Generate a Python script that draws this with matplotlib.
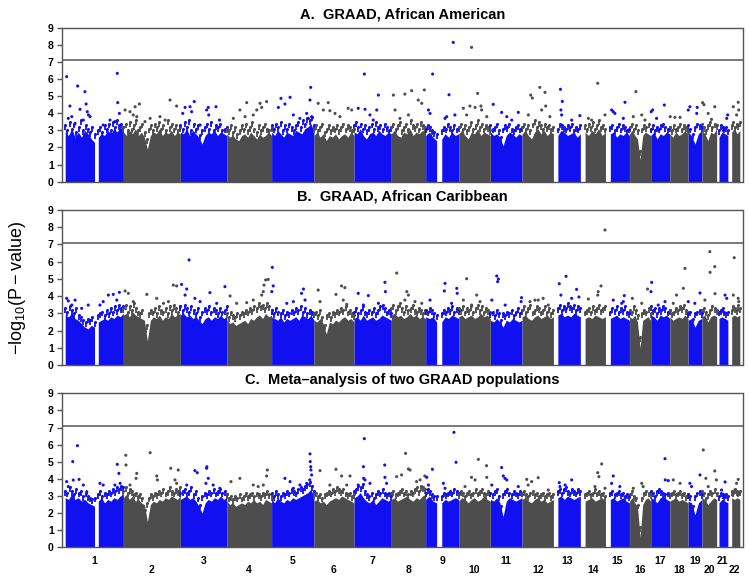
import numpy as np
import matplotlib.pyplot as plt

plt.rcParams['font.family'] = ['Liberation Sans', 'DejaVu Sans']

# chromosome sizes (Mb, hg19)
chroms = list(range(1, 23))
chrom_len = [249.3, 243.2, 198.0, 191.2, 180.9, 171.1, 159.1, 146.4, 141.2, 135.5, 135.0,
             133.9, 115.2, 107.3, 102.5, 90.4, 81.2, 78.1, 59.1, 63.0, 48.1, 51.3]

# stretches with genotyped SNPs (chromosome, first Mb, last Mb)
seg_chrom = [1, 1, 2, 3, 4, 5, 6, 7, 8, 9, 9, 10, 11, 12, 13, 14, 15, 16, 17, 18, 19, 20, 21, 22]
seg_start = [0.8, 142, 0.1, 0.1, 0.1, 0.1, 0.2, 0.1, 0.2, 0.2, 69, 0.1, 0.2, 0.2, 19, 20, 20.5,
             0.1, 0.1, 0.1, 0.3, 0.1, 10, 16]
seg_end = [126, 249, 243, 198, 191, 181, 171, 159, 146, 47, 141, 135, 135, 134, 115, 107, 102,
           90, 81, 78, 59, 63, 48, 51]

# upper edge of the solid cloud of SNPs, read along each stretch
body_a = [
    [2.9, 2.7, 3.1, 2.6, 2.9, 2.6, 3.0, 2.8, 2.5, 2.3],
    [2.6, 2.8, 2.7, 3.0, 2.8, 3.1, 2.9, 3.2, 3.0],
    [2.9, 2.7, 3.0, 2.8, 3.1, 2.7, 2.9, 2.6, 1.9, 2.7, 2.9, 2.8, 3.1, 2.7, 2.9, 2.8, 3.0, 2.7, 2.9, 2.8],
    [2.9, 2.8, 3.1, 2.7, 3.0, 2.8, 2.6, 2.2, 2.7, 2.9, 2.8, 3.0, 2.7, 2.9, 2.8, 2.7],
    [2.8, 2.6, 2.7, 2.5, 2.4, 2.7, 2.8, 2.6, 2.9, 2.7, 2.5, 2.8, 2.6, 2.7, 2.9, 2.7],
    [2.9, 2.7, 3.0, 2.8, 2.6, 2.9, 2.8, 2.7, 3.0, 2.9, 2.8, 3.1, 3.2, 3.4, 2.9],
    [2.7, 2.9, 2.6, 2.8, 2.4, 2.7, 2.6, 2.8, 2.5, 2.7, 2.8, 2.6, 2.9, 2.7],
    [2.9, 2.8, 3.1, 2.7, 2.5, 2.8, 2.9, 2.7, 3.0, 2.8, 2.7, 2.9, 2.8],
    [2.8, 3.0, 2.7, 2.6, 2.9, 2.8, 3.1, 2.7, 2.9, 2.8, 3.0, 2.9],
    [2.7, 2.9, 2.6, 2.4],
    [2.5, 2.8, 2.6, 2.9, 2.7, 2.8],
    [2.8, 3.0, 2.7, 2.5, 2.9, 2.8, 3.1, 2.7, 2.9, 2.8, 2.7],
    [2.9, 2.7, 2.8, 2.6, 2.1, 2.7, 2.9, 2.8, 2.6, 2.8, 2.7],
    [2.8, 3.0, 2.7, 2.5, 2.9, 3.1, 2.8, 3.0, 2.7, 2.9, 2.8],
    [2.7, 3.0, 2.9, 2.7, 2.8, 2.9, 2.6, 2.8],
    [2.9, 2.7, 3.0, 2.8, 3.1, 2.7, 2.9],
    [2.8, 2.9, 2.6, 2.8, 2.7, 2.9, 2.7],
    [2.8, 3.0, 2.7, 2.5, 1.3, 2.7, 2.9, 2.8, 2.7],
    [2.7, 2.9, 2.5, 2.8, 2.7, 2.9, 2.8],
    [2.8, 2.6, 2.9, 2.7, 2.8, 3.0, 2.7],
    [2.9, 2.7, 2.2, 2.8, 3.0],
    [3.0, 2.8, 2.4, 2.9, 2.8, 3.1],
    [2.6, 2.9, 2.8, 2.7],
    [2.9, 3.1, 2.8, 3.0],
]
body_b = [
    [2.9, 2.8, 3.0, 2.7, 2.6, 2.4, 2.2, 2.1, 2.3, 2.2],
    [2.5, 2.6, 2.7, 2.6, 2.8, 2.7, 2.9, 2.8, 3.0],
    [2.9, 3.0, 2.8, 3.1, 2.9, 2.8, 2.7, 2.6, 1.4, 2.6, 2.8, 2.7, 2.9, 2.6, 2.8, 2.7, 3.0, 2.8, 2.9, 3.0],
    [2.9, 3.0, 2.8, 2.9, 2.7, 2.8, 2.6, 2.4, 2.7, 2.8, 2.6, 2.8, 2.7, 2.9, 2.7, 2.8],
    [2.6, 2.4, 2.5, 2.3, 2.4, 2.5, 2.6, 2.4, 2.7, 2.6, 2.8, 2.9, 2.7, 3.0, 2.8, 2.9],
    [2.8, 2.7, 2.6, 2.8, 2.5, 2.7, 2.6, 2.7, 2.8, 2.6, 2.9, 2.8, 2.7, 2.9, 2.6],
    [2.6, 2.5, 2.7, 2.4, 1.8, 2.5, 2.4, 2.6, 2.5, 2.7, 2.8, 2.6, 2.7, 2.5],
    [2.7, 2.8, 2.6, 2.9, 2.6, 2.7, 2.8, 2.6, 2.7, 2.9, 2.8, 2.7, 2.6],
    [2.9, 3.0, 2.8, 2.9, 2.7, 2.8, 3.0, 2.8, 2.9, 2.7, 2.8, 2.7],
    [2.8, 2.7, 2.8, 2.5],
    [2.5, 2.8, 2.7, 2.9, 2.8, 2.7],
    [2.8, 2.9, 2.7, 2.8, 2.9, 2.7, 2.8, 3.0, 2.8, 2.9, 2.7],
    [2.6, 2.5, 2.7, 2.5, 2.2, 2.6, 2.5, 2.7, 2.6, 2.5, 2.6],
    [2.8, 2.9, 2.7, 2.6, 2.8, 2.9, 2.7, 2.8, 2.9, 2.7, 2.8],
    [2.9, 3.0, 2.8, 2.9, 2.8, 3.0, 2.9, 2.8],
    [2.7, 2.8, 2.7, 2.9, 2.8, 2.7, 2.8],
    [2.7, 2.8, 2.9, 2.7, 2.8, 2.7, 2.6],
    [2.8, 2.7, 2.9, 2.5, 1.0, 2.6, 2.7, 2.8, 2.6],
    [2.9, 2.8, 2.6, 2.9, 2.8, 2.9, 2.7],
    [2.8, 2.6, 2.7, 2.8, 2.7, 2.9, 2.7],
    [2.6, 2.7, 2.2, 2.6, 2.7],
    [2.8, 2.9, 2.5, 2.8, 2.9, 2.8],
    [2.7, 2.8, 2.7, 2.6],
    [2.8, 2.9, 2.8, 2.9],
]
body_c = [
    [2.9, 2.8, 3.1, 2.8, 2.9, 2.7, 2.8, 2.6, 2.5, 2.4],
    [2.7, 2.9, 2.6, 2.8, 2.7, 2.9, 2.8, 3.0, 3.1],
    [2.9, 3.1, 2.8, 3.0, 2.7, 2.8, 2.6, 2.5, 1.5, 2.5, 2.7, 2.6, 2.8, 2.7, 2.9, 2.8, 3.0, 2.9, 2.8, 3.0],
    [2.8, 2.9, 3.0, 2.8, 2.9, 2.7, 2.4, 2.0, 2.6, 2.8, 2.7, 2.9, 2.8, 3.0, 2.8, 2.9],
    [2.7, 2.5, 2.6, 2.4, 2.5, 2.6, 2.5, 2.7, 2.6, 2.8, 2.6, 2.7, 2.5, 2.8, 2.7, 2.6],
    [2.8, 2.6, 2.9, 2.7, 2.6, 2.8, 2.7, 2.9, 2.8, 2.9, 3.0, 3.1, 3.2, 3.4, 2.9],
    [2.7, 2.8, 2.6, 2.7, 2.5, 2.7, 2.8, 2.9, 2.8, 3.0, 2.9, 2.8, 2.7, 2.6],
    [2.9, 3.0, 3.2, 2.9, 2.7, 2.6, 2.8, 2.5, 2.7, 2.9, 2.8, 2.7, 2.8],
    [2.8, 2.9, 2.7, 2.8, 2.9, 3.0, 2.8, 2.7, 2.9, 2.8, 3.0, 3.1],
    [2.8, 3.0, 2.7, 2.6],
    [2.6, 2.8, 2.7, 2.8, 2.9, 2.8],
    [2.7, 2.9, 2.8, 2.6, 2.8, 2.9, 2.7, 2.8, 3.0, 2.8, 2.7],
    [2.8, 2.7, 2.9, 2.6, 1.8, 2.7, 2.9, 2.8, 2.7, 2.8, 2.9],
    [2.8, 2.9, 2.7, 2.6, 2.8, 2.9, 2.7, 2.8, 2.6, 2.7, 2.8],
    [2.9, 3.0, 2.8, 3.0, 2.9, 2.8, 2.9, 3.0],
    [2.7, 2.8, 2.9, 2.7, 2.8, 2.9, 2.7],
    [2.8, 2.9, 2.7, 2.8, 2.9, 2.7, 2.6],
    [2.7, 2.9, 2.6, 2.4, 0.6, 2.5, 2.8, 2.9, 2.7],
    [2.9, 2.8, 2.6, 2.9, 3.0, 2.8, 2.7],
    [2.7, 2.8, 2.9, 2.7, 2.8, 2.7, 2.6],
    [2.7, 2.6, 1.9, 2.6, 2.8],
    [2.9, 2.8, 2.5, 2.7, 2.9, 2.8],
    [2.6, 2.8, 2.7, 2.6],
    [2.9, 2.8, 2.9, 2.8],
]

# speckled band of SNPs just above the solid cloud, read along each stretch
fringe_a = [
    [3.3, 3.0, 3.5, 3.1, 3.4, 2.9, 3.2, 3.6, 3.0, 3.3, 3.1, 2.9, 3.2, 2.8],
    [3.0, 3.2, 2.9, 3.3, 3.1, 3.4, 3.0, 3.5, 3.2, 3.6, 3.3, 3.4, 3.2],
    [3.2, 3.4, 3.0, 3.5, 3.1, 3.3, 3.6, 3.0, 3.2, 3.4, 2.9, 2.5, 3.1, 3.3, 3.0, 3.4, 3.2, 3.5, 3.1,
     3.3, 3.0, 3.6, 3.2, 3.4, 3.1, 3.3, 3.0, 3.2],
    [3.3, 3.1, 3.5, 3.2, 3.6, 3.0, 3.4, 3.1, 3.3, 2.7, 3.0, 3.2, 3.4, 3.1, 3.5, 3.0, 3.3, 3.2, 3.4,
     3.0, 3.1, 3.2],
    [3.1, 3.0, 3.3, 2.9, 3.2, 2.8, 3.0, 3.3, 3.1, 3.4, 3.0, 3.2, 3.5, 3.1, 2.9, 3.3, 3.0, 3.2, 3.4,
     3.1, 3.0, 3.2],
    [3.3, 3.1, 3.4, 3.2, 3.5, 3.0, 3.3, 3.1, 3.4, 3.2, 3.0, 3.3, 3.5, 3.2, 3.6, 3.4, 3.7, 3.6, 3.8, 3.3],
    [3.1, 3.3, 3.0, 3.2, 3.4, 2.9, 3.1, 3.3, 3.0, 3.2, 3.1, 3.3, 3.0, 3.2, 3.4, 3.1, 3.3, 3.2, 3.0, 3.1],
    [3.3, 3.5, 3.2, 3.4, 3.1, 3.3, 3.0, 3.2, 3.4, 3.1, 3.5, 3.2, 3.3, 3.1, 3.4, 3.2, 3.0, 3.2],
    [3.2, 3.4, 3.1, 3.3, 3.5, 3.0, 3.2, 3.4, 3.1, 3.6, 3.3, 3.2, 3.4, 3.1, 3.5, 3.3, 3.2],
    [3.1, 3.3, 3.2, 3.0, 2.9, 2.8],
    [3.0, 3.2, 3.1, 3.4, 3.2, 3.0, 3.3, 3.1, 3.2],
    [3.2, 3.4, 3.1, 3.3, 3.0, 3.2, 3.5, 3.1, 3.3, 3.6, 3.2, 3.4, 3.1, 3.3, 3.2, 3.0],
    [3.3, 3.1, 3.2, 3.4, 3.0, 2.6, 3.1, 3.3, 3.2, 3.4, 3.1, 3.0, 3.2, 3.3, 3.1, 3.2],
    [3.2, 3.4, 3.1, 3.3, 3.0, 3.4, 3.6, 3.2, 3.5, 3.3, 3.1, 3.4, 3.2, 3.3, 3.1, 3.2],
    [3.1, 3.4, 3.3, 3.2, 3.1, 3.3, 3.2, 3.4, 3.0, 3.2, 3.1, 3.3],
    [3.3, 3.1, 3.4, 3.2, 3.5, 3.1, 3.3, 3.6, 3.2, 3.3, 3.1],
    [3.2, 3.3, 3.0, 3.2, 3.4, 3.1, 3.3, 3.2, 3.0, 3.1],
    [3.2, 3.4, 3.1, 3.3, 3.0, 1.8, 3.1, 3.3, 3.2, 3.4, 3.1],
    [3.1, 3.3, 3.0, 3.2, 3.1, 3.3, 3.4, 3.2, 3.1, 3.2],
    [3.2, 3.0, 3.3, 3.1, 3.2, 3.4, 3.1, 3.3, 3.2, 3.0],
    [3.3, 3.1, 2.8, 3.2, 3.4, 3.3, 3.2],
    [3.4, 3.2, 3.0, 3.3, 3.5, 3.2, 3.4, 3.3],
    [3.0, 3.3, 3.2, 3.1, 3.2, 3.0],
    [3.3, 3.5, 3.2, 3.4, 3.3, 3.5],
]
fringe_b = [
    [3.3, 3.1, 3.4, 3.2, 3.0, 3.3, 2.9, 2.8, 2.6, 2.5, 2.7, 2.6, 2.8, 2.5],
    [2.9, 3.0, 3.1, 2.9, 3.2, 3.0, 3.3, 3.1, 3.4, 3.2, 3.5, 3.3, 3.4],
    [3.3, 3.5, 3.1, 3.4, 3.2, 3.6, 3.3, 3.1, 3.0, 3.2, 2.0, 2.3, 3.0, 3.2, 3.1, 3.3, 3.0, 3.4, 3.2,
     3.1, 3.3, 3.0, 3.4, 3.2, 3.5, 3.3, 3.1, 3.4],
    [3.4, 3.2, 3.5, 3.3, 3.1, 3.4, 3.2, 3.0, 3.3, 2.8, 3.1, 3.3, 3.2, 3.4, 3.1, 3.3, 3.2, 3.0, 3.3,
     3.1, 3.2, 3.4],
    [3.0, 2.8, 3.1, 2.9, 2.8, 3.0, 2.9, 3.1, 3.0, 3.2, 3.1, 3.3, 3.2, 3.4, 3.3, 3.6, 3.4, 3.5, 3.3,
     3.6, 3.4, 3.2],
    [3.2, 3.0, 3.3, 3.1, 3.0, 3.2, 2.9, 3.1, 3.0, 3.2, 3.1, 3.3, 3.2, 3.4, 3.1, 3.3, 3.0, 3.2, 3.1, 3.0],
    [3.0, 3.1, 2.9, 3.2, 2.8, 2.3, 2.9, 3.0, 2.8, 3.1, 3.0, 3.2, 3.1, 3.3, 3.2, 3.4, 3.1, 3.2, 3.0, 2.9],
    [3.1, 3.3, 3.0, 3.2, 3.4, 3.1, 3.0, 3.2, 3.1, 3.3, 3.0, 3.2, 3.4, 3.5, 3.3, 3.1, 3.2, 3.0],
    [3.3, 3.5, 3.2, 3.4, 3.6, 3.3, 3.1, 3.4, 3.2, 3.3, 3.5, 3.2, 3.1, 3.3, 3.2, 3.0, 3.2],
    [3.2, 3.1, 3.3, 3.2, 3.0, 2.9],
    [3.0, 3.2, 3.1, 3.3, 3.2, 3.4, 3.1, 3.3, 3.2],
    [3.3, 3.2, 3.4, 3.1, 3.3, 3.2, 3.4, 3.1, 3.3, 3.5, 3.2, 3.4, 3.1, 3.3, 3.2, 3.1],
    [3.0, 3.1, 2.9, 3.2, 3.0, 2.6, 3.0, 2.9, 3.1, 3.0, 3.2, 2.9, 3.1, 3.3, 3.0, 3.2],
    [3.2, 3.4, 3.1, 3.3, 3.5, 3.1, 3.2, 3.4, 3.3, 3.1, 3.2, 3.4, 3.1, 3.3, 3.0, 3.2],
    [3.3, 3.5, 3.2, 3.4, 3.3, 3.6, 3.4, 3.3, 3.5, 3.2, 3.4, 3.3],
    [3.1, 3.2, 3.3, 3.1, 3.4, 3.2, 3.3, 3.5, 3.2, 3.3, 3.4],
    [3.1, 3.3, 3.2, 3.4, 3.1, 3.3, 3.2, 3.4, 3.1, 3.0],
    [3.2, 3.1, 3.4, 3.2, 2.9, 1.6, 3.0, 3.2, 3.1, 3.3, 3.0],
    [3.4, 3.2, 3.3, 3.0, 3.3, 3.2, 3.4, 3.3, 3.1, 3.2],
    [3.2, 3.0, 3.1, 3.3, 3.2, 3.4, 3.3, 3.5, 3.2, 3.1],
    [3.0, 3.1, 2.7, 3.0, 3.1, 3.2, 3.0],
    [3.2, 3.3, 3.1, 2.9, 3.2, 3.4, 3.3, 3.2],
    [3.1, 3.2, 3.3, 3.1, 3.0, 3.1],
    [3.2, 3.4, 3.3, 3.2, 3.5, 3.3],
]
fringe_c = [
    [3.3, 3.2, 3.5, 3.3, 3.1, 3.4, 3.2, 3.3, 3.0, 3.2, 3.0, 2.9, 2.8, 2.9],
    [3.1, 3.3, 3.0, 3.2, 3.1, 3.3, 3.2, 3.4, 3.3, 3.5, 3.4, 3.6, 3.5],
    [3.3, 3.5, 3.2, 3.4, 3.3, 3.1, 3.2, 3.0, 3.1, 2.9, 2.2, 2.6, 2.9, 3.1, 3.0, 3.2, 3.1, 3.3, 3.2,
     3.4, 3.2, 3.3, 3.5, 3.3, 3.2, 3.4, 3.3, 3.5],
    [3.2, 3.3, 3.4, 3.2, 3.3, 3.5, 3.1, 3.3, 2.9, 2.5, 3.0, 3.2, 3.1, 3.3, 3.2, 3.4, 3.2, 3.3, 3.4,
     3.2, 3.3, 3.1],
    [3.1, 2.9, 3.0, 2.8, 3.0, 2.9, 3.1, 2.9, 3.0, 3.2, 3.0, 3.1, 3.2, 3.0, 3.2, 3.1, 3.0, 3.2, 3.1,
     3.3, 3.1, 3.0],
    [3.2, 3.0, 3.3, 3.1, 3.0, 3.2, 3.1, 3.3, 3.2, 3.4, 3.3, 3.2, 3.4, 3.5, 3.4, 3.6, 3.7, 3.8, 3.6, 3.3],
    [3.1, 3.2, 3.0, 3.1, 2.9, 3.1, 3.2, 3.3, 3.2, 3.4, 3.3, 3.5, 3.4, 3.3, 3.4, 3.2, 3.1, 3.2, 3.0, 3.1],
    [3.3, 3.4, 3.6, 3.5, 3.7, 3.3, 3.1, 3.0, 3.2, 2.9, 3.1, 3.3, 3.2, 3.4, 3.2, 3.1, 3.2, 3.0],
    [3.2, 3.3, 3.1, 3.2, 3.3, 3.4, 3.2, 3.3, 3.1, 3.3, 3.2, 3.4, 3.5, 3.3, 3.6, 3.5, 3.4],
    [3.2, 3.4, 3.3, 3.1, 3.0, 3.0],
    [3.0, 3.2, 3.1, 3.2, 3.3, 3.2, 3.4, 3.3, 3.2],
    [3.1, 3.3, 3.2, 3.0, 3.2, 3.3, 3.1, 3.2, 3.4, 3.2, 3.3, 3.4, 3.2, 3.1, 3.3, 3.2],
    [3.2, 3.1, 3.3, 3.4, 3.0, 2.4, 3.1, 3.3, 3.4, 3.2, 3.1, 3.3, 3.2, 3.1, 3.3, 3.2],
    [3.2, 3.3, 3.1, 3.0, 3.2, 3.3, 3.1, 3.2, 3.0, 3.1, 3.2, 3.0, 3.1, 3.2, 3.0, 3.1],
    [3.3, 3.4, 3.2, 3.4, 3.5, 3.3, 3.2, 3.4, 3.3, 3.2, 3.4, 3.3],
    [3.1, 3.2, 3.3, 3.1, 3.2, 3.4, 3.2, 3.3, 3.1, 3.2, 3.0],
    [3.2, 3.3, 3.1, 3.2, 3.3, 3.1, 3.2, 3.0, 3.1, 3.0],
    [3.1, 3.3, 3.0, 2.9, 2.5, 1.2, 2.9, 3.2, 3.3, 3.2, 3.1],
    [3.3, 3.2, 3.0, 3.3, 3.4, 3.3, 3.2, 3.1, 3.2, 3.1],
    [3.1, 3.2, 3.3, 3.1, 3.2, 3.3, 3.1, 3.2, 3.0, 3.1],
    [3.1, 3.0, 2.4, 3.0, 3.2, 3.3, 3.1],
    [3.3, 3.2, 2.9, 3.1, 3.3, 3.2, 3.4, 3.2],
    [3.0, 3.2, 3.1, 3.0, 3.1, 3.0],
    [3.3, 3.2, 3.4, 3.3, 3.2, 3.3],
]

# individual SNPs above the cloud: (chromosome, position Mb, -log10 P)
hits_a = [
    (1, 7, 6.14), (1, 21, 4.42), (1, 54, 5.59), (1, 85, 5.26), (1, 90, 4.54), (1, 64, 4.23),
    (1, 14, 3.70), (1, 29, 3.80), (1, 100, 3.90), (1, 107, 3.80), (1, 95, 4.09), (1, 43, 3.41),
    (1, 78, 3.60), (1, 223, 6.33), (1, 225, 4.62), (1, 232, 3.99), (1, 192, 3.60), (1, 163, 3.31),
    (1, 213, 3.51),
    (2, 7, 4.19), (2, 50, 4.38), (2, 68, 4.54), (2, 28, 4.09), (2, 42, 3.90), (2, 57, 3.80),
    (2, 199, 4.77), (2, 227, 4.42), (2, 114, 3.70), (2, 156, 3.80), (2, 178, 3.60), (2, 92, 3.51),
    (3, 20, 4.34), (3, 41, 4.38), (3, 59, 4.68), (3, 10, 3.99), (3, 48, 4.09), (3, 112, 4.19),
    (3, 119, 4.34), (3, 152, 4.38), (3, 121, 3.90), (3, 84, 3.31), (3, 167, 3.60),
    (4, 56, 4.19), (4, 85, 4.62), (4, 142, 4.58), (4, 170, 4.68), (4, 128, 4.19), (4, 149, 4.34),
    (4, 113, 3.90), (4, 28, 3.70), (4, 78, 3.80),
    (5, 29, 4.34), (5, 40, 4.87), (5, 57, 4.54), (5, 79, 4.93), (5, 167, 5.51), (5, 164, 4.77),
    (5, 150, 3.99), (5, 171, 3.80), (5, 93, 3.90), (5, 121, 3.70), (5, 157, 3.70),
    (6, 18, 4.58), (6, 61, 4.62), (6, 40, 4.19), (6, 68, 4.15), (6, 90, 3.99), (6, 146, 4.29),
    (6, 161, 4.19), (6, 111, 3.80),
    (7, 44, 6.29), (7, 18, 4.29), (7, 47, 4.23), (7, 68, 3.90), (7, 104, 5.06), (7, 97, 4.19),
    (7, 82, 3.60),
    (8, 9, 5.06), (8, 58, 5.12), (8, 87, 5.32), (8, 141, 5.36), (8, 115, 4.77), (8, 130, 4.58),
    (8, 16, 4.19), (8, 73, 3.90), (8, 37, 3.70),
    (9, 30, 6.29), (9, 100, 5.08), (9, 118, 8.14), (9, 12, 4.19), (9, 19, 3.99), (9, 83, 3.70),
    (9, 90, 3.80), (9, 125, 3.90),
    (10, 55, 7.85), (10, 81, 5.16), (10, 20, 4.29), (10, 48, 4.42), (10, 70, 4.34), (10, 95, 4.42),
    (10, 98, 4.19), (10, 34, 3.90), (10, 120, 3.80),
    (11, 12, 4.52), (11, 48, 4.05), (11, 119, 4.05), (11, 91, 3.60), (11, 70, 3.80),
    (12, 37, 5.06), (12, 44, 4.89), (12, 76, 5.51), (12, 98, 5.22), (12, 101, 4.42), (12, 84, 4.19),
    (12, 27, 3.90), (12, 119, 3.80),
    (13, 30, 5.40), (13, 38, 4.69), (13, 32, 4.19), (13, 35, 3.90), (13, 113, 3.86), (13, 78, 3.60),
    (14, 74, 5.75), (14, 34, 3.70), (14, 48, 3.60), (14, 105, 3.90),
    (15, 26, 4.19), (15, 83, 4.64), (15, 33, 4.09), (15, 40, 3.99), (15, 76, 3.70),
    (16, 27, 5.26), (16, 52, 3.90), (16, 66, 3.60), (16, 16, 3.80),
    (17, 58, 4.48), (17, 8, 4.19), (17, 2, 4.09), (17, 25, 3.70),
    (18, 2, 3.80), (18, 22, 3.76), (18, 44, 3.76),
    (19, 8, 4.38), (19, 1, 4.19), (19, 39, 4.34), (19, 37, 3.99),
    (20, 3, 4.62), (20, 9, 4.50), (20, 55, 4.38), (20, 27, 3.99), (20, 41, 3.64),
    (21, 47, 3.90), (21, 43, 3.70),
    (22, 44, 4.64), (22, 23, 4.38), (22, 46, 4.19), (22, 37, 3.90),
]
hits_b = [
    (1, 7, 3.87), (1, 43, 3.77), (1, 29, 3.48), (1, 99, 3.48), (1, 14, 3.72), (1, 71, 3.29),
    (1, 185, 4.06), (1, 206, 4.10), (1, 232, 4.22), (1, 163, 3.68), (1, 149, 3.48), (1, 221, 3.77),
    (2, 7, 4.30), (2, 21, 4.16), (2, 100, 4.10), (2, 142, 3.87), (2, 171, 3.58), (2, 213, 4.64),
    (2, 227, 4.59), (2, 42, 3.68), (2, 192, 3.68),
    (3, 5, 4.68), (3, 20, 4.06), (3, 27, 4.41), (3, 37, 6.10), (3, 62, 3.87), (3, 126, 4.20),
    (3, 190, 4.55), (3, 84, 3.68), (3, 155, 3.58),
    (4, 14, 4.01), (4, 85, 3.62), (4, 149, 4.06), (4, 159, 4.64), (4, 177, 4.97), (4, 166, 4.94),
    (4, 113, 3.77), (4, 42, 3.58), (4, 156, 4.26),
    (5, 3, 5.67), (5, 7, 4.59), (5, 1, 4.26), (5, 65, 3.58), (5, 136, 4.41), (5, 128, 4.16),
    (5, 143, 3.77), (5, 93, 3.68),
    (6, 18, 4.35), (6, 26, 3.68), (6, 94, 4.10), (6, 118, 4.59), (6, 132, 4.49), (6, 125, 3.77),
    (6, 140, 3.52),
    (7, 18, 4.16), (7, 61, 4.03), (7, 40, 3.48), (7, 104, 3.58), (7, 132, 4.80), (7, 134, 4.26),
    (8, 23, 5.34), (8, 66, 4.26), (8, 73, 4.06), (8, 58, 3.77), (8, 101, 3.68), (8, 130, 3.58),
    (9, 19, 3.77), (9, 83, 4.74), (9, 80, 4.30), (9, 133, 4.45), (9, 135, 4.16), (9, 111, 3.58),
    (10, 34, 5.01), (10, 77, 4.06), (10, 91, 3.68), (10, 55, 3.48), (10, 20, 3.77),
    (11, 27, 5.17), (11, 34, 4.99), (11, 31, 4.84), (11, 6, 3.77), (11, 63, 3.48), (11, 133, 3.91),
    (11, 131, 3.68),
    (12, 55, 3.77), (12, 34, 3.68), (12, 69, 3.77), (12, 112, 3.48), (12, 90, 3.87),
    (13, 25, 4.72), (13, 32, 4.06), (13, 54, 5.15), (13, 99, 4.39), (13, 109, 3.95), (13, 78, 3.87),
    (14, 88, 4.59), (14, 76, 4.26), (14, 74, 4.06), (14, 34, 3.83), (14, 105, 7.84),
    (15, 80, 4.03), (15, 69, 3.58), (15, 76, 3.68), (15, 33, 3.77),
    (16, 12, 3.87), (16, 52, 3.58), (16, 77, 4.41),
    (17, 4, 4.80), (17, 1, 4.26), (17, 61, 3.68), (17, 32, 3.48),
    (18, 29, 4.06), (18, 58, 4.45), (18, 65, 5.61), (18, 15, 3.58),
    (19, 51, 4.18), (19, 1, 3.68), (19, 29, 3.58),
    (20, 34, 6.58), (20, 35, 5.38), (20, 55, 5.71), (20, 56, 4.14), (20, 13, 3.77),
    (21, 36, 4.06), (21, 43, 3.87),
    (22, 27, 6.23), (22, 23, 4.06), (22, 44, 3.87), (22, 46, 3.68),
]
hits_c = [
    (1, 53, 5.94), (1, 33, 5.01), (1, 35, 3.93), (1, 60, 3.97), (1, 7, 3.84), (1, 14, 3.55),
    (1, 78, 3.64), (1, 93, 3.25), (1, 149, 3.74), (1, 163, 3.64), (1, 223, 4.85), (1, 230, 4.32),
    (1, 213, 3.64), (1, 235, 3.74),
    (2, 10, 5.38), (2, 11, 4.81), (2, 57, 4.32), (2, 54, 4.03), (2, 114, 5.53), (2, 142, 4.17),
    (2, 145, 3.94), (2, 202, 4.62), (2, 234, 4.52), (2, 220, 3.94), (2, 227, 3.74), (2, 28, 3.64),
    (3, 62, 4.48), (3, 72, 4.36), (3, 112, 4.62), (3, 113, 4.71), (3, 119, 4.03), (3, 109, 3.74),
    (3, 27, 3.64), (3, 140, 3.64), (3, 168, 3.45),
    (4, 18, 3.84), (4, 56, 4.03), (4, 113, 3.64), (4, 156, 3.64), (4, 173, 4.52), (4, 170, 4.17),
    (4, 134, 3.55),
    (5, 57, 4.03), (5, 79, 3.84), (5, 150, 3.74), (5, 164, 5.46), (5, 165, 5.01), (5, 167, 4.71),
    (5, 168, 4.52), (5, 171, 4.23), (5, 163, 3.94), (5, 121, 3.64), (5, 93, 3.45),
    (6, 26, 4.48), (6, 94, 4.56), (6, 118, 4.17), (6, 154, 4.17), (6, 68, 3.64), (6, 140, 3.64),
    (7, 44, 6.35), (7, 40, 4.71), (7, 41, 4.03), (7, 47, 3.94), (7, 68, 3.74), (7, 18, 3.64),
    (7, 131, 4.81), (7, 132, 4.09), (7, 139, 3.74),
    (8, 61, 5.49), (8, 73, 4.58), (8, 80, 4.52), (8, 23, 4.13), (8, 44, 4.23), (8, 108, 3.84),
    (8, 123, 3.94), (8, 143, 4.17),
    (9, 5, 4.09), (9, 29, 4.56), (9, 12, 3.64), (9, 76, 3.74), (9, 83, 3.45), (9, 121, 6.72),
    (9, 130, 4.97),
    (10, 55, 4.09), (10, 70, 3.94), (10, 84, 5.14), (10, 119, 4.77), (10, 120, 4.09), (10, 27, 3.55),
    (11, 48, 4.66), (11, 55, 4.17), (11, 62, 4.03), (11, 70, 3.94), (11, 6, 3.64), (11, 119, 3.55),
    (12, 20, 3.97), (12, 41, 3.84), (12, 69, 4.07), (12, 26, 3.64), (12, 112, 3.35),
    (13, 25, 3.78), (13, 28, 3.55), (13, 78, 3.94), (13, 50, 3.64),
    (14, 91, 4.87), (14, 74, 4.36), (14, 79, 4.13), (14, 62, 3.55), (14, 105, 3.45),
    (15, 33, 4.17), (15, 61, 3.55), (15, 26, 3.74),
    (16, 52, 3.74), (16, 58, 3.55), (16, 16, 3.45),
    (17, 61, 5.18), (17, 62, 3.94), (17, 75, 3.90), (17, 32, 3.25),
    (18, 15, 3.94), (18, 44, 3.74),
    (19, 51, 4.23), (19, 8, 3.74), (19, 15, 3.55),
    (20, 6, 5.69), (20, 17, 4.03), (20, 55, 4.46), (20, 62, 3.94), (20, 27, 3.55),
    (21, 36, 3.82), (21, 21, 3.35),
    (22, 44, 3.97), (22, 37, 3.74), (22, 30, 3.35),
]

titles = ['A.  GRAAD, African American',
          'B.  GRAAD, African Caribbean',
          'C.  Meta\u2013analysis of two GRAAD populations']
threshold = 7.1

blue = '#1010f0'
grey = '#4d4d4d'
frame = '#555555'

offset = np.concatenate([[0], np.cumsum(chrom_len)[:-1]])
centers = offset + np.array(chrom_len) / 2
total = sum(chrom_len)


def colour(c):
    return blue if c % 2 else grey


fig = plt.figure(figsize=(7.5, 5.79), dpi=100)
boxes = [[0.0831, 0.6862, 0.9069, 0.2660],
         [0.0831, 0.3696, 0.9069, 0.2677],
         [0.0831, 0.0547, 0.9069, 0.2660]]

panels = zip([body_a, body_b, body_c], [fringe_a, fringe_b, fringe_c], [hits_a, hits_b, hits_c])
for i, (body, fringe, hits) in enumerate(panels):
    ax = fig.add_axes(boxes[i])
    for k, vals in enumerate(body):
        c = seg_chrom[k]
        x = offset[c - 1] + np.linspace(seg_start[k], seg_end[k], len(vals))
        ax.fill_between(x, 0, vals, color=colour(c), lw=0)
        # speckled band: SNPs sitting just over the solid part
        fv = np.array(fringe[k])
        fx = offset[c - 1] + np.linspace(seg_start[k], seg_end[k], len(fv))
        ax.scatter(fx, fv, s=5, color=colour(c), lw=0, zorder=2)
        ax.vlines(fx, fv - 0.28, fv, color=colour(c), lw=1.3, zorder=1)
    hc = np.array([h[0] for h in hits])
    hp = np.array([h[1] for h in hits], dtype=float)
    hy = np.array([h[2] for h in hits])
    ax.scatter(offset[hc - 1] + hp, hy, s=5, c=[colour(c) for c in hc], lw=0, zorder=3)

    ax.axhline(threshold, color=frame, lw=1.1, zorder=4)
    ax.set_xlim(-11.5, total + 11)
    ax.set_ylim(0, 9)
    ax.set_yticks(range(10))
    ax.tick_params(axis='y', length=3.6, width=1, color=frame, pad=2.5, labelsize=7.5)
    for lab in ax.get_yticklabels():
        lab.set_fontweight('bold')
    for s in ax.spines.values():
        s.set_color(frame)
        s.set_linewidth(1.0)
    ax.text(0.5, 1.088, titles[i], transform=ax.transAxes, ha='center', va='center',
            fontsize=10.5, fontweight='bold')

    if i < 2:
        ax.set_xticks([])
    else:
        ax.set_xticks(centers[0::2], [str(c) for c in chroms[0::2]])
        ax.set_xticks(centers[1::2], [str(c) for c in chroms[1::2]], minor=True)
        ax.tick_params(axis='x', which='major', length=0, pad=6.5, labelsize=7.5)
        ax.tick_params(axis='x', which='minor', length=0, pad=13, labelsize=7.5)
        for lab in ax.get_xticklabels(which='both'):
            lab.set_fontweight('bold')

fig.text(0.0227, 0.5034, r'$\mathregular{-log_{10}(P-value)}$', rotation=90,
         ha='center', va='center', fontsize=13)

fig.savefig('out.png', dpi=100)
